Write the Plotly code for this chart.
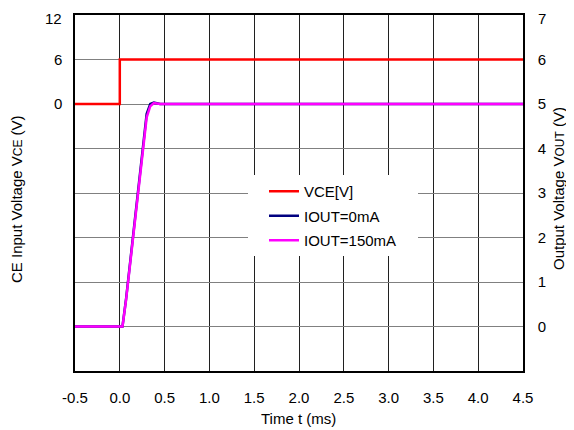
import plotly.graph_objects as go

# Time (ms)
t_vce = [-0.5, 0.0, 0.0, 4.5]
vce = [0, 0, 6, 6]

t_out0 = [-0.5, 0.03, 0.07, 0.20, 0.30, 0.34, 0.38, 0.45, 4.5]
vout0 = [0.0, 0.0, 0.62, 3.05, 4.78, 5.00, 5.03, 5.00, 5.00]

t_out150 = [-0.5, 0.03, 0.07, 0.20, 0.30, 0.34, 0.38, 0.45, 4.5]
vout150 = [0.0, 0.0, 0.60, 3.00, 4.70, 4.95, 5.02, 5.00, 5.00]

x_ticks = [-0.5, 0.0, 0.5, 1.0, 1.5, 2.0, 2.5, 3.0, 3.5, 4.0, 4.5]
left_ticks = [0, 6, 12]
right_ticks = [0, 1, 2, 3, 4, 5, 6, 7]

FONT = "Liberation Sans, Arial, sans-serif"
FS = 15

fig = go.Figure()
fig.add_trace(go.Scatter(x=t_vce, y=vce, mode="lines", name="VCE[V]", legendgroup="a",
                         line=dict(color="#ff0000", width=2.5), yaxis="y"))
fig.add_trace(go.Scatter(x=t_out0, y=vout0, mode="lines", name="IOUT=0mA", legendgroup="b",
                         line=dict(color="#000080", width=2.5), yaxis="y2"))
fig.add_trace(go.Scatter(x=t_out150, y=vout150, mode="lines", name="IOUT=150mA", legendgroup="c",
                         line=dict(color="#ff00ff", width=2.5), yaxis="y2"))

# page body offset (default 8px margin)
O = 8
W, H = 574, 430
# desired plot area in screen pixels: x 75..523, y 15..371
L = 75 - O
T = 15 - O
R = W + O - 523
B = H + O - 371
pw = W - L - R
ph = H - T - B

def px(xpix):
    return (xpix - O - L) / pw

def py(ypix):
    return 1 - (ypix - O - T) / ph

small = "<span style='font-size:12px'>{}</span>"

# top-most tick labels are placed as annotations so they stay inside the page
left_top = left_ticks[-1]
right_top = right_ticks[-1]

fig.update_layout(
    width=W, height=H,
    margin=dict(l=L, r=R, t=T, b=B, autoexpand=False),
    paper_bgcolor="white", plot_bgcolor="white",
    font=dict(family=FONT, size=FS, color="black"),
    showlegend=True,
    legend=dict(x=px(264), y=py(175), xanchor="left", yanchor="top",
                bgcolor="rgba(0,0,0,0)", borderwidth=0, itemwidth=30,
                font=dict(size=FS, family=FONT), tracegroupgap=2,
                traceorder="grouped"),
    xaxis=dict(range=[-0.5, 4.5], tickvals=x_ticks,
               ticktext=[f"{v:.1f}" for v in x_ticks],
               showgrid=True, gridcolor="#202020", gridwidth=1,
               showline=True, linecolor="black", linewidth=1.5, mirror=True,
               zeroline=False, ticks="", automargin=False,
               ticklabelstandoff=12, ticklabeloverflow="allow"),
    yaxis=dict(range=[-36, 12], tickvals=left_ticks[:-1],
               ticktext=[str(v) for v in left_ticks[:-1]],
               showgrid=False, zeroline=False, ticks="", automargin=False,
               showline=True, linecolor="black", linewidth=1.5,
               ticklabelstandoff=8, ticklabeloverflow="allow"),
    yaxis2=dict(range=[-1, 7], tickvals=right_ticks[:-1], overlaying="y", side="right",
                showgrid=True, gridcolor="#808080", gridwidth=1,
                zeroline=False, ticks="", automargin=False,
                showline=True, linecolor="black", linewidth=1.5,
                ticklabelstandoff=10, ticklabeloverflow="allow"),
    shapes=[dict(type="rect", xref="paper", yref="paper",
                 x0=px(248), x1=px(418), y0=py(256), y1=py(175),
                 fillcolor="white", line=dict(width=0), layer="above")],
    annotations=[
        dict(text=str(left_top), xref="paper", yref="paper",
             x=px(64), y=py(8), xanchor="right", yanchor="top",
             showarrow=False, font=dict(size=FS)),
        dict(text=str(right_top), xref="paper", yref="paper",
             x=px(536), y=py(8), xanchor="left", yanchor="top",
             showarrow=False, font=dict(size=FS)),
        dict(text="Time t (ms)", xref="paper", yref="paper",
             x=px(298), y=py(418), xanchor="center", yanchor="middle",
             showarrow=False, font=dict(size=FS)),
        dict(text="CE Input Voltage V" + small.format("CE") + " (V)",
             xref="paper", yref="paper", x=px(16), y=py(199),
             xanchor="center", yanchor="middle", textangle=-90,
             showarrow=False, font=dict(size=FS)),
        dict(text="Output Voltage V" + small.format("OUT") + " (V)",
             xref="paper", yref="paper", x=px(558), y=py(189),
             xanchor="center", yanchor="middle", textangle=-90,
             showarrow=False, font=dict(size=FS)),
    ],
)

fig.write_html("out.html")
